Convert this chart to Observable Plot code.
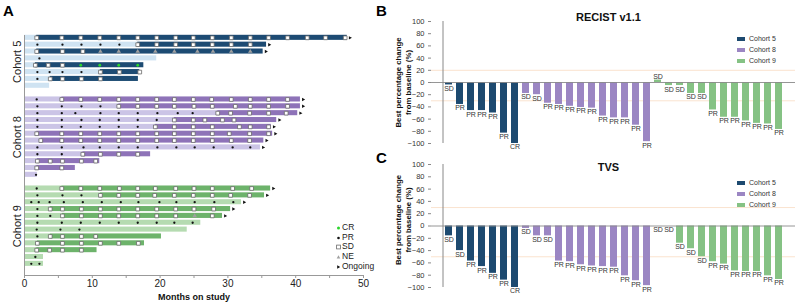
<!DOCTYPE html>
<html><head><meta charset="utf-8">
<script src="https://cdn.jsdelivr.net/npm/d3@7"></script>
<script src="https://cdn.jsdelivr.net/npm/@observablehq/plot@0.6"></script>
<style>
body{margin:0;background:#fff;font-family:"Liberation Sans",Arial,sans-serif;}
#wrap{position:relative;width:798px;height:303px;overflow:hidden;background:#fff;}
#wrap svg.plot{position:absolute;}
.letter{position:absolute;font-weight:bold;font-size:15px;line-height:15px;color:#000;}
.legA{position:absolute;font-size:8.5px;color:#222;}
.legA div,.legB div{height:9.7px;line-height:9.7px;display:flex;align-items:center;white-space:nowrap;}
.legA svg{width:5px;height:6px;margin-right:1px;}
.legB{position:absolute;font-size:7px;color:#333;}
.legB div{height:10.8px;line-height:10.8px;}
.legB span.sw{display:inline-block;width:8px;height:4px;margin-right:4px;}
</style></head><body><div id="wrap"></div>
<script>
const FONT = '"Liberation Sans", Arial, sans-serif';
// ---------- Panel A: swimmer data ----------
const cohortNames = ["Cohort 5", "Cohort 8", "Cohort 9"];
const rowCohort = [0,0,0,0,0,0,0,0, 1,1,1,1,1,1,1,1,1,1,1,1, 2,2,2,2,2,2,2,2,2,2,2,2];
// month at which the darker segment starts (null = light only)
const rowSwitch = [1.8,16.7,1.8,null,1.6,11.2,3.8,null,
  5.5,13.9,28.5,22.1,19.3,1.8,2.4,null,8.6,1.9,1.8,null,
  5.5,11.2,null,3.8,5.6,null,null,3.8,1.9,1.8,null,null];
const rowEnd = [47.6,35.7,35.2,19.5,17.6,17.0,16.8,3.7,
  40.7,40.7,40.3,37.2,36.4,36.6,35.3,34.8,18.6,11.1,7.5,1.9,
  36.3,35.4,32.0,30.4,29.2,26.0,24.0,20.2,17.7,10.7,2.8,2.8];
const rowOngoing = [1,1,1,0,0,0,0,0, 1,1,1,1,1,1,1,1,0,0,0,0, 1,1,1,1,1,0,0,0,0,0,0,0];
const prMonths = [[],[1.9,5.6,8.4,11.2,14.0],[],[2.2],[],[1.9,3.7,5.6,8.4],[1.9],[],
  [1.8],[1.9,5.5,8.4,11.2],[1.9,5.5,7.5,11.2,13.9,16.7,19.6,22.6,24.8],[1.9,5.5,8.4,11.1,13.9,16.7,19.5],
  [1.9,5.5,8.3,11.1,13.9,16.7],[],[],[1.9,5.5,8.7,11.1,13.9,16.7,19.6,22.4,25.1,27.9,30.7,33.3],[1.9,5.5],[],[],[1.7],
  [1.8],[1.9,5.6,8.4],[1.0,2.1,3.7,5.8,8.6,11.4,14.2,16.8,19.9,22.4,25.1,28.0,30.8],[1.9],[1.9,3.8],
  [1.9,5.5,8.3,11.1,13.9,16.7,19.5,22.1,24.8],[1.8,5.3,8.1],[1.9],[],[],[1.6],[1.0,2.2]];
const sdMonths = [[1.8,5.5,8.3,11.1,13.9,16.7,19.5,22.3,24.9,27.7,30.5,33.3,36.0,38.8,41.7,44.4,47.3],
  [16.7,19.5,22.3,24.9,27.7,30.5,33.3],[1.8,5.6,8.6],[],[1.6,3.5,5.6],[11.2,14.0,17.0],[3.8,5.6,8.4,11.2],[],
  [5.5,8.3,11.1,13.9,16.7,19.5,22.1,24.9,27.6,30.5,33.3,36.0,38.8],[13.9,16.7,19.5,22.1,25.0,27.7,31.1,33.3,36.0,38.8],
  [28.5,30.4,33.2,36.0,38.6],[22.1,24.9,26.6,29.2,30.9],[19.3,22.1,24.9,27.7,31.7,33.3,36.0],
  [1.8,5.5,8.3,11.1,13.9,16.7,19.5,22.1,24.9,27.7,30.2,33.2,36.0],[2.4,5.5,8.3,11.1,13.9,16.7,19.5,22.1,24.9,27.7,30.5,33.2],
  [],[8.6,11.2,13.9,16.7],[1.9,3.8,5.6,8.4,10.5],[1.8,5.5],[],
  [5.5,8.3,11.1,14.0,16.7,19.3,22.3,25.0,27.7,30.7,33.5],[11.2,13.9,16.7,19.2,22.1,24.9,27.7,30.4,33.2],[],
  [3.8,5.6,8.4,11.2,13.9,16.7,19.5,22.3,25.0,27.9],[5.6,8.4,11.2,13.9,16.7,19.5,22.3,27.7],[],[],
  [3.8,5.6,8.4,10.5],[1.9,5.6,8.4,11.2,13.9,16.8],[1.8,3.7,5.6,8.4],[],[]];
const crMonths = {4: [8.3,11.1,13.9,16.7]};
const neMonths = {2: [11.2,13.9,16.7,19.3,22.1,25.5,27.8,30.5,33.3], 24: [25.1]};
const lightColor = ["#cfe3f2", "#cbc4e6", "#b5dbb1"];
const darkColor = ["#1d4b73", "#8e73b8", "#6db36b"];
const xTicksA = [0,5,10,15,20,25,30,35,40,45,50];

// ---------- Panels B & C: waterfall data ----------
const barCohort = [0,0,0,0,0,0,0, 1,1,1,1,1,1,1,1,1,1,1,1, 2,2,2,2,2,2,2,2,2,2,2,2];
const recistValues = [-4,-36,-46,-46,-50,-83,-100, -18,-20,-34,-36,-39,-41,-42,-55,-58,-58,-70,-97,
  4,-5,-5,-18,-18,-45,-57,-57,-63,-67,-68,-77];
const recistResp = ["SD","PR","PR","PR","PR","PR","CR", "SD","SD","PR","PR","PR","PR","PR","PR","PR","PR","PR","PR",
  "SD","SD","SD","SD","SD","PR","PR","PR","PR","PR","PR","PR"];
const tvsValues = [-16,-40,-57,-66,-77,-88,-100, -4,-16,-16,-57,-58,-63,-65,-66,-67,-81,-89,-97,
  0,0,-28,-37,-50,-58,-62,-73,-74,-74,-81,-87];
const tvsResp = ["SD","SD","PR","PR","PR","PR","CR", "SD","SD","SD","PR","PR","PR","PR","PR","PR","PR","PR","PR",
  "SD","SD","SD","SD","SD","PR","PR","PR","PR","PR","PR","PR"];
const barColor = ["#1d4a70", "#9b86c3", "#85c284"];
const yTicksW = [-100,-80,-60,-40,-20,0,20,40,60,80,100];
const recistRefs = [20, -30];
const tvsRefs = [30, -50];

const wrap = document.getElementById("wrap");

// ---------- build Panel A ----------
const rows = rowCohort.map((c, i) => ({i, c, pos: i + c, sw: rowSwitch[i], end: rowEnd[i], ongoing: rowOngoing[i]}));
const flat = (arr) => arr.flatMap((ms, i) => ms.map(m => ({m, pos: rows[i].pos})));
const fromObj = (o) => Object.entries(o).flatMap(([i, ms]) => ms.map(m => ({m, pos: rows[+i].pos})));
const prPts = flat(prMonths), sdPts = flat(sdMonths), crPts = fromObj(crMonths), nePts = fromObj(neMonths);
const H = 0.37;
const yDomA = [-0.34, 34.7];
const arrowSym = {draw(ctx, size){ const r = Math.sqrt(size / Math.PI); ctx.moveTo(-r*0.8, -r); ctx.lineTo(r, 0); ctx.lineTo(-r*0.8, r); ctx.closePath(); }};
const cohortLabels = cohortNames.map((name, k) => ({name, pos: d3.mean(rows.filter(r => r.c === k), r => r.pos)}));

const plotA = Plot.plot({
  width: 370, height: 303, marginLeft: 24, marginRight: 7, marginTop: 35, marginBottom: 28,
  style: {fontFamily: FONT, fontSize: "10px", color: "#222", background: "transparent", overflow: "visible"},
  x: {domain: [0, 50], label: null},
  y: {domain: yDomA, reverse: true, axis: null},
  color: {type: "identity"},
  marks: [
    Plot.rect(rows, {x1: 0, x2: d => d.sw ?? d.end, y1: d => d.pos - H, y2: d => d.pos + H, fill: d => lightColor[d.c]}),
    Plot.rect(rows.filter(d => d.sw != null), {x1: "sw", x2: "end", y1: d => d.pos - H, y2: d => d.pos + H, fill: d => darkColor[d.c]}),
    Plot.dot(sdPts, {x: "m", y: "pos", symbol: "square", r: 2.1, fill: "#fff", stroke: "#6a6a6a", strokeWidth: 0.8}),
    Plot.dot(prPts, {x: "m", y: "pos", r: 1.15, fill: "#111"}),
    Plot.dot(crPts, {x: "m", y: "pos", r: 1.4, fill: "#2cd52c"}),
    Plot.dot(nePts, {x: "m", y: "pos", symbol: "triangle", r: 1.7, fill: "#a0a0a0"}),
    Plot.dot(rows.filter(d => d.ongoing), {x: "end", y: "pos", symbol: arrowSym, r: 1.7, fill: "#111", dx: 3}),
    Plot.ruleX([0], {stroke: "#999"}),
    Plot.ruleY([yDomA[1]], {stroke: "#999"}),
    Plot.axisX({ticks: xTicksA, tickFormat: d => d % 10 === 0 ? d : "", tickSize: 3, tickPadding: 1.5, stroke: "#999", label: null, fontSize: 10}),
    Plot.text(cohortLabels, {x: 0, y: "pos", text: "name", rotate: -90, dx: -7, fontSize: 11, fill: "#222"}),
    Plot.text(["Months on study"], {frameAnchor: "bottom", lineAnchor: "middle", dy: 22, fontWeight: "bold", fontSize: 9, fill: "#111"})
  ]
});
plotA.classList.add("plot");
plotA.style.left = "0px"; plotA.style.top = "0px";
wrap.appendChild(plotA);

// ---------- build Panels B & C ----------
const ids = barCohort.map((c, i) => "P" + (i + 1));
function waterfall(values, resp, title, refs, top, height, mTop, mBottom, titleDy, labelDy) {
  const bars = ids.map((id, i) => ({id, c: barCohort[i], v: values[i], r: resp[i]}));
  const p = Plot.plot({
    width: 428, height, marginLeft: 61, marginRight: 3, marginTop: mTop, marginBottom: mBottom,
    style: {fontFamily: FONT, fontSize: "7.5px", color: "#333", background: "transparent", overflow: "visible"},
    x: {type: "band", domain: ids, paddingInner: 0.38, paddingOuter: 0.2, axis: null},
    y: {domain: [-100, 100], label: null},
    color: {type: "identity"},
    marks: [
      Plot.ruleY(refs, {stroke: "#f9e0ca", strokeWidth: 0.9}),
      Plot.barY(bars, {x: "id", y: "v", fill: d => barColor[d.c]}),
      Plot.ruleY([0], {stroke: "#8a8a8a", strokeWidth: 0.9}),
      Plot.text(bars.filter(d => d.v <= 0), {x: "id", y: "v", text: "r", lineAnchor: "top", dy: 1, fontSize: 7, fill: "#333"}),
      Plot.text(bars.filter(d => d.v > 0), {x: "id", y: "v", text: "r", lineAnchor: "bottom", dy: -1, fontSize: 7, fill: "#333"}),
      Plot.axisY({ticks: yTicksW, tickSize: 3, tickPadding: 4, stroke: "#888", label: null, fontSize: 7.5}),
      Plot.ruleX([ids[0]], {stroke: "#888", dx: -6}),
      Plot.text(["Best percentage change\nfrom baseline (%)"], {frameAnchor: "left", textAnchor: "middle", lineAnchor: "middle", dx: -29, dy: labelDy, rotate: -90, fontWeight: "bold", fontSize: 7.8, lineHeight: 1.4, fill: "#111"}),
      Plot.text([title], {frameAnchor: "top", lineAnchor: "middle", dy: titleDy, dx: -5, fontWeight: "bold", fontSize: 11, fill: "#111"})
    ]
  });
  p.classList.add("plot");
  p.style.left = "370px"; p.style.top = top + "px";
  wrap.appendChild(p);
}
waterfall(recistValues, recistResp, "RECIST v1.1", recistRefs, 0, 150, 21, 7, -4, 0);
waterfall(tvsValues, tvsResp, "TVS", tvsRefs, 150, 153, 14, 16, 3, -6);

// ---------- panel letters ----------
[["A", 3, 3], ["B", 376, 3], ["C", 376, 150]].forEach(([t, x, y]) => {
  const d = document.createElement("div"); d.className = "letter"; d.textContent = t;
  d.style.left = x + "px"; d.style.top = y + "px"; wrap.appendChild(d);
});

// ---------- legend A ----------
const legAItems = [
  ["CR", '<circle cx="2.5" cy="3" r="1.5" fill="#2cd52c"/>'],
  ["PR", '<circle cx="2.5" cy="3" r="1.3" fill="#111"/>'],
  ["SD", '<rect x="0.6" y="1.1" width="3.8" height="3.8" fill="#fff" stroke="#6a6a6a" stroke-width="0.8"/>'],
  ["NE", '<path d="M2.5,1.2L4.3,4.6L0.7,4.6Z" fill="#a0a0a0"/>'],
  ["Ongoing", '<path d="M1.2,1.2L4.2,3L1.2,4.8Z" fill="#111"/>']
];
const legA = document.createElement("div"); legA.className = "legA";
legA.style.left = "336px"; legA.style.top = "223px";
legA.innerHTML = legAItems.map(([t, s]) => `<div><svg viewBox="0 0 5 6">${s}</svg>${t}</div>`).join("");
wrap.appendChild(legA);

// ---------- legends B & C ----------
[34, 178].forEach(top => {
  const l = document.createElement("div"); l.className = "legB";
  l.style.left = "737px"; l.style.top = top + "px";
  l.innerHTML = cohortNames.map((n, k) => `<div><span class="sw" style="background:${barColor[k]}"></span>${n}</div>`).join("");
  wrap.appendChild(l);
});
</script></body></html>
